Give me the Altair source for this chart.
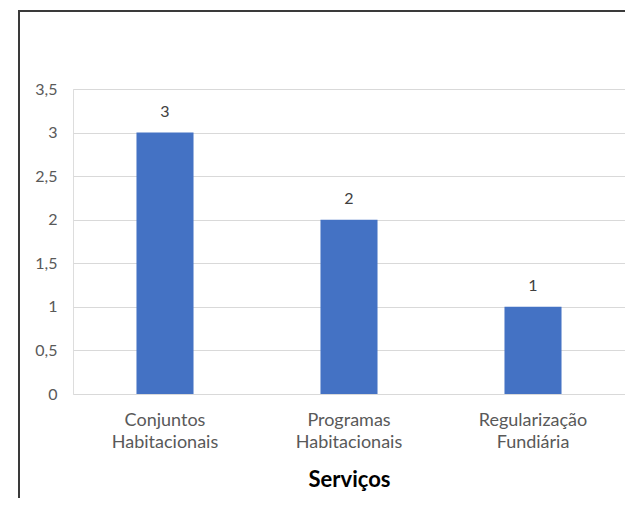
import altair as alt
import pandas as pd

categories = ["Conjuntos Habitacionais", "Programas Habitacionais", "Regularização Fundiária"]
values = [3, 2, 1]
y_ticks = [0, 0.5, 1, 1.5, 2, 2.5, 3, 3.5]

df = pd.DataFrame({"servico": categories, "valor": values})

FONT = "Lato"
W, H = 552, 305
PAD = {"left": 65, "top": 81, "right": 0, "bottom": 104}

x_enc = alt.X(
    "servico:N",
    sort=categories,
    title="Serviços",
    scale=alt.Scale(paddingInner=0.69, paddingOuter=0.345),
    axis=alt.Axis(
        labelAngle=0,
        labelExpr="split(datum.label, ' ')",
        labelLineHeight=22,
        labelFont=FONT,
        labelFontSize=18,
        labelColor="#595959",
        labelPadding=17,
        labelBaseline="top",
        ticks=False,
        domain=False,
        titleFont=FONT,
        titleFontSize=22,
        titleFontWeight="bold",
        titleColor="#000000",
        titlePadding=18,
    ),
)

y_enc = alt.Y(
    "valor:Q",
    title=None,
    scale=alt.Scale(domain=[0, 3.5], nice=False),
    axis=alt.Axis(
        values=y_ticks,
        format="~g",
        labelExpr="replace(datum.label, '.', ',')",
        labelFont=FONT,
        labelFontSize=16,
        labelColor="#595959",
        labelPadding=16,
        ticks=False,
        domain=False,
        grid=True,
        gridColor="#d9d9d9",
        gridWidth=1,
    ),
)

bars = alt.Chart(df).mark_bar(color="#4472C4").encode(x=x_enc, y=y_enc)

labels = alt.Chart(df).mark_text(
    font=FONT, fontSize=16, color="#404040", dy=-21, baseline="middle"
).encode(x=alt.X("servico:N", sort=categories), y="valor:Q", text="valor:Q")

frame_df = pd.DataFrame({"k": [0]})
left_edge = alt.Chart(frame_df).mark_rule(
    color="#3a3a3a", strokeWidth=2, clip=False
).encode(
    x=alt.value(-54), y=alt.value(-79), y2=alt.value(H + PAD["bottom"]),
)
top_edge = alt.Chart(frame_df).mark_rule(
    color="#3a3a3a", strokeWidth=2, clip=False
).encode(
    x=alt.value(-55), x2=alt.value(W + PAD["right"]), y=alt.value(-78),
)
top_line = alt.Chart(frame_df).mark_rule(
    color="#3a3a3a", strokeWidth=2, clip=False
).encode(
    x=alt.value(-55), x2=alt.value(W + PAD["right"]), y=alt.value(-88),
)

chart = alt.layer(left_edge, top_edge, top_line, bars, labels).properties(
    width=W,
    height=H,
    autosize=alt.AutoSizeParams(type="none"),
    padding=PAD,
).configure_view(stroke=None).configure(background="white")

chart.save("out.html", embed_options={"renderer": "svg", "actions": False})
